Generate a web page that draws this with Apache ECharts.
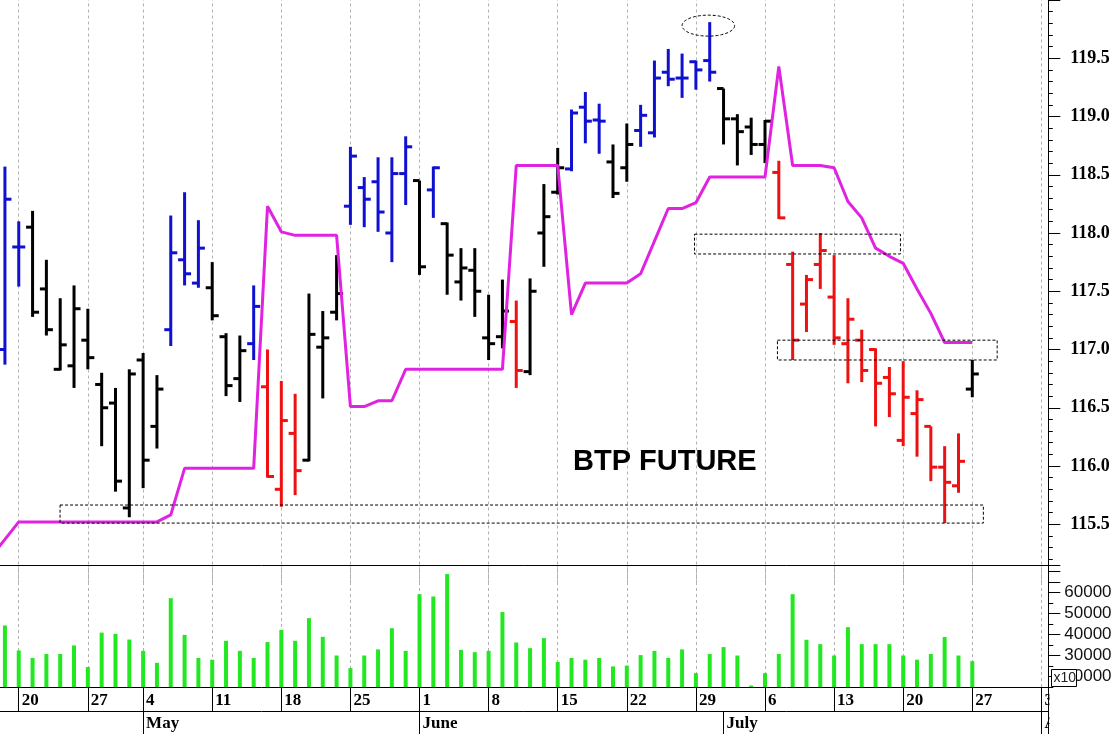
<!DOCTYPE html>
<html><head><meta charset="utf-8">
<script src="https://cdn.jsdelivr.net/npm/echarts@6/dist/echarts.min.js"></script>
<style>html,body{margin:0;padding:0;background:#fff;}#c{width:1119px;height:734px;}</style>
</head><body><div id="c"></div>
<script>
// ---- categories (trading days) ----
const days = ['04-16','04-17','04-20','04-21','04-22','04-23','04-24','04-27','04-28','04-29','04-30',
'05-04','05-05','05-06','05-07','05-08','05-11','05-12','05-13','05-14','05-15','05-18','05-19','05-20','05-21','05-22',
'05-25','05-26','05-27','05-28','05-29','06-01','06-02','06-03','06-04','06-05','06-08','06-09','06-10','06-11','06-12',
'06-15','06-16','06-17','06-18','06-19','06-22','06-23','06-24','06-25','06-26','06-29','06-30','07-01','07-02','07-03',
'07-06','07-07','07-08','07-09','07-10','07-13','07-14','07-15','07-16','07-17','07-20','07-21','07-22','07-23','07-24',
'07-27','07-28','07-29','07-30','07-31','08-03'];
const weekTicks = ['04-20','04-27','05-04','05-11','05-18','05-25','06-01','06-08','06-15','06-22','06-29','07-06','07-13','07-20','07-27','08-03'];
const monthStarts = ['05-04','06-01','07-01','08-03'];
const monthNames = ['May','June','July','August'];

// ---- OHLC (first category and last five are empty) ----
const opens = [null,
117.00,117.88,118.05,117.52,116.83,116.86,117.08,116.70,116.54,115.64,
116.91,116.34,117.17,117.77,117.57,117.53,117.11,116.75,117.05,116.68,
115.80,116.28,116.05,117.02,117.32,118.23,118.39,118.44,118.00,118.51,
118.45,118.37,118.08,117.58,117.68,117.10,117.11,117.24,116.81,118.00,
118.35,118.55,119.08,118.97,118.61,118.56,118.88,118.86,119.38,119.33,
119.47,119.48,119.24,118.98,118.91,118.76,118.52,117.73,117.39,117.73,
117.45,117.05,117.08,117.00,116.76,116.22,116.45,116.34,115.99,115.83,116.66,
null,null,null,null,null];
const highs = [null,
118.57,118.10,118.19,117.77,117.44,117.55,117.35,116.80,116.67,116.83,
116.97,116.78,118.15,118.35,118.11,117.75,117.14,117.12,117.55,117.00,
116.73,116.62,117.48,117.33,117.81,118.74,118.48,118.65,118.65,118.83,
118.45,118.57,118.09,117.87,117.87,117.47,117.60,117.42,117.61,118.42,
118.73,119.06,119.21,119.11,118.76,118.94,119.10,119.48,119.58,119.54,
119.48,119.81,119.24,119.02,118.99,118.97,118.62,117.84,117.64,118.00,
117.81,117.44,117.17,117.01,116.85,116.90,116.65,116.34,116.17,116.28,116.91,
null,null,null,null,null];
const lows = [null,
116.87,117.54,117.28,117.12,116.82,116.67,116.83,116.17,115.78,115.56,
115.81,116.15,117.03,117.55,117.53,117.25,116.60,116.55,116.91,115.90,
115.65,115.75,116.04,116.58,117.25,118.07,118.05,118.01,117.75,118.24,
117.64,118.13,117.47,117.42,117.28,116.91,117.01,116.67,116.78,117.71,
118.33,118.53,118.77,118.68,118.30,118.44,118.74,118.82,119.26,119.16,
119.23,119.30,118.76,118.58,118.67,118.60,118.12,116.91,117.15,117.52,
117.04,116.71,116.72,116.34,116.42,116.17,116.08,115.87,115.51,115.77,116.59,
null,null,null,null,null];
const closes = [null,
118.29,117.88,117.32,117.17,117.04,117.35,116.93,116.50,115.87,116.79,
116.05,116.66,117.83,117.65,117.87,117.29,116.69,116.99,117.37,115.91,
116.39,115.96,117.13,117.10,117.48,118.66,118.29,118.18,118.51,118.74,
117.71,118.56,117.81,117.70,117.50,117.05,117.33,116.82,117.50,118.14,
118.56,119.03,118.96,118.96,118.34,118.76,119.01,119.33,119.32,119.33,
119.40,119.38,118.98,118.87,118.76,118.96,118.13,117.08,117.60,117.85,
117.10,117.26,116.82,116.71,116.62,116.59,116.57,115.99,115.86,116.04,116.79,
null,null,null,null,null];
// bar colour state: b = blue, k = black, r = red
const trend = [null,
'b','b','k','k','k','k','k','k','k','k',
'k','k','b','b','b','k','k','k','b','r',
'r','r','k','k','k','b','b','b','b','b',
'k','b','k','k','k','k','k','r','k','k',
'k','b','b','b','k','k','b','b','b','b',
'b','b','k','k','k','k','r','r','r','r',
'r','r','r','r','r','r','r','r','r','r','k',
null,null,null,null,null];

// ---- magenta indicator line ----
const lineVals = [115.22,
115.37,115.52,115.52,115.52,115.52,115.52,115.52,115.52,115.52,115.52,
115.52,115.52,115.58,115.98,115.98,115.98,115.98,115.98,115.98,118.23,
118.01,117.98,117.98,117.98,117.98,116.51,116.51,116.56,116.56,116.83,
116.83,116.83,116.83,116.83,116.83,116.83,116.83,118.58,118.58,118.58,
118.58,117.30,117.57,117.57,117.57,117.57,117.65,117.93,118.21,118.21,
118.26,118.48,118.48,118.48,118.48,118.48,119.43,118.58,118.58,118.58,
118.56,118.27,118.13,117.87,117.80,117.74,117.52,117.31,117.06,117.06,117.06,
null,null,null,null,null];

// ---- volume ----
const volumes = [null,
44300,32400,28800,30700,30700,34800,24500,40900,40300,37600,
32200,26500,57300,39800,28800,28000,37000,32200,28800,36400,
42200,37000,47800,38900,30000,24000,30000,32900,43000,32200,
59200,58100,68800,32700,31600,32200,50700,36200,33500,38300,
26900,28800,28000,28800,24800,25200,30200,32200,28800,32900,
21600,30700,34000,30000,15700,21600,30700,59200,37500,35400,
30000,43500,35400,35400,35400,30000,28000,30700,38800,30000,27300,
null,null,null,null,null];

// ---- dashed annotation zones (x in trading-day index units, y in price) ----
const zoneX1 = [4.99, 56.9, 50.9, 50.0];
const zoneX2 = [71.8, 72.8, 65.8, 53.8];
const zoneLo = [115.51, 116.91, 117.82, 119.69];
const zoneHi = [115.665, 117.08, 117.99, 119.87];
const zoneShape = ['rect','rect','rect','ellipse'];

const COLORS = {b:'#1010d0', k:'#000000', r:'#ee1111'};
const MAGENTA = '#e023e0';
const GREEN = '#22e822';

const isWeek = (i, v) => weekTicks.indexOf(v) >= 0;
const isMonth = (i, v) => monthStarts.indexOf(v) >= 0;

const ohlcData = [];
for (let i = 0; i < days.length; i++) {
  if (opens[i] != null) ohlcData.push([i, opens[i], highs[i], lows[i], closes[i]]);
}

function renderOHLC(params, api) {
  const i = api.value(0);
  const h = api.coord([i, api.value(2)]);
  const l = api.coord([i, api.value(3)]);
  const o = api.coord([i, api.value(1)]);
  const c = api.coord([i, api.value(4)]);
  const col = COLORS[trend[i]];
  const x = h[0];
  const t = 6.5;
  const st = {stroke: col, lineWidth: 3};
  return {type: 'group', children: [
    {type: 'line', shape: {x1: x, y1: h[1], x2: x, y2: l[1]}, style: st},
    {type: 'line', shape: {x1: x - t, y1: o[1], x2: x, y2: o[1]}, style: st},
    {type: 'line', shape: {x1: x, y1: c[1], x2: x + t, y2: c[1]}, style: st}
  ]};
}

function renderZone(params, api) {
  const k = params.dataIndex;
  const c0 = api.coord([0, zoneLo[k]]);
  const bw = api.size([1, 0])[0];
  const x1 = c0[0] + zoneX1[k] * bw, x2 = c0[0] + zoneX2[k] * bw;
  const yLo = c0[1], yHi = api.coord([0, zoneHi[k]])[1];
  const style = {fill: 'none', stroke: '#000', lineWidth: 1, lineDash: [3, 2]};
  if (zoneShape[k] === 'ellipse') {
    const cx = (x1 + x2) / 2, cy = (yLo + yHi) / 2, rx = (x2 - x1) / 2, ry = (yLo - yHi) / 2;
    const pts = [];
    for (let s = 0; s < 72; s++) { const a = s / 72 * 2 * Math.PI; pts.push([cx + rx * Math.cos(a), cy + ry * Math.sin(a)]); }
    return {type: 'polygon', shape: {points: pts}, style: style};
  }
  return {type: 'rect', shape: {x: x1, y: yHi, width: x2 - x1, height: yLo - yHi}, style: style};
}

const gridMarks = {
  silent: true, symbol: 'none', animation: false, z: 0,
  label: {show: false},
  lineStyle: {color: '#b2b2b2', type: [3, 3], width: 1},
  emphasis: {disabled: true},
  data: weekTicks.map(d => ({xAxis: d}))
};

const GL = -15.8, GR = 70.7;
const chart = echarts.init(document.getElementById('c'));
chart.setOption({
  animation: false,
  backgroundColor: '#ffffff',
  grid: [
    {left: GL, right: GR, top: 0, height: 582.5, containLabel: false, outerBoundsMode: 'none'},
    {left: GL, right: GR, top: 565, height: 122, containLabel: false, outerBoundsMode: 'none'},
    {left: GL, right: GR, top: 565, height: 132.5, containLabel: false, outerBoundsMode: 'none'}
  ],
  xAxis: [
    {type: 'category', gridIndex: 0, data: days, axisLine: {show: false}, axisTick: {show: false}, axisLabel: {show: false}, splitLine: {show: false}},
    {type: 'category', gridIndex: 1, data: days, position: 'bottom',
      axisLine: {show: true, lineStyle: {color: '#000', width: 1}},
      axisTick: {show: true, alignWithLabel: true, interval: isWeek, length: 24, lineStyle: {color: '#000'}},
      axisLabel: {interval: isWeek, formatter: v => String(Number(v.slice(3))), align: 'left', padding: [0, 0, 0, 3], margin: 5,
        fontFamily: 'Liberation Serif', fontWeight: 'bold', fontSize: 17, color: '#000'},
      splitLine: {show: false}},
    {type: 'category', gridIndex: 1, data: days, position: 'bottom', offset: 24,
      axisLine: {show: true, lineStyle: {color: '#000', width: 1}},
      axisTick: {show: true, alignWithLabel: true, interval: isMonth, length: 23, lineStyle: {color: '#000'}},
      axisLabel: {interval: isMonth, formatter: v => { const k = monthStarts.indexOf(v); return k >= 0 ? monthNames[k] : ''; },
        align: 'left', padding: [0, 0, 0, 3], margin: 4, fontFamily: 'Liberation Serif', fontWeight: 'bold', fontSize: 17, color: '#000'},
      splitLine: {show: false}},
    {type: 'category', gridIndex: 1, data: days, position: 'top',
      axisLine: {show: true, lineStyle: {color: '#000', width: 1}}, axisTick: {show: false}, axisLabel: {show: false}, splitLine: {show: false}},
    {type: 'category', gridIndex: 2, data: days, show: false}
  ],
  yAxis: [
    {type: 'value', gridIndex: 0, position: 'right', min: 115, max: 120, interval: 0.5,
      axisLine: {show: true, lineStyle: {color: '#000', width: 1}},
      axisTick: {show: true, length: 12, lineStyle: {color: '#000'}},
      minorTick: {show: true, splitNumber: 5, length: 4.5, lineStyle: {color: '#000'}},
      axisLabel: {margin: 22, formatter: v => (v > 115.01 && v < 119.99) ? v.toFixed(1) : '',
        fontFamily: 'Liberation Serif', fontWeight: 'bold', fontSize: 18, color: '#000'},
      splitLine: {show: false}, minorSplitLine: {show: false}},
    {type: 'value', gridIndex: 1, position: 'right', min: 15000, max: 73100, interval: 5000,
      axisLine: {show: true, lineStyle: {color: '#000', width: 1}},
      axisTick: {show: true, length: 5, lineStyle: {color: '#000'}},
      axisLabel: {show: false}, splitLine: {show: false}},
    {type: 'value', gridIndex: 2, position: 'right', min: 10000, max: 73100, interval: 10000,
      axisLine: {show: false},
      axisTick: {show: true, length: 12, lineStyle: {color: '#000'}},
      axisLabel: {margin: 16, formatter: v => (v >= 20000 && v <= 60000) ? String(v) : '',
        fontFamily: 'Liberation Sans', fontSize: 17, color: '#111'},
      splitLine: {show: false}}
  ],
  series: [
    {type: 'line', name: 'gridP', xAxisIndex: 0, yAxisIndex: 0, data: [], z: 0, markLine: gridMarks},
    {type: 'line', name: 'gridV', xAxisIndex: 1, yAxisIndex: 1, data: [], z: 0, markLine: gridMarks},
    {type: 'custom', name: 'OHLC', xAxisIndex: 0, yAxisIndex: 0, data: ohlcData, renderItem: renderOHLC, z: 3,
      encode: {x: 0, y: [1, 2, 3, 4]}},
    {type: 'line', name: 'Indicator', xAxisIndex: 0, yAxisIndex: 0, data: lineVals, symbol: 'none', z: 4,
      lineStyle: {color: MAGENTA, width: 3}, itemStyle: {color: MAGENTA}},
    {type: 'custom', name: 'Zones', xAxisIndex: 0, yAxisIndex: 0,
      data: zoneX1.map((v, i) => [Math.round(v), zoneLo[i]]), renderItem: renderZone, z: 5},
    {type: 'bar', name: 'Volume', xAxisIndex: 1, yAxisIndex: 1, data: volumes, barWidth: 4, z: 3,
      itemStyle: {color: GREEN}}
  ],
  graphic: [
    {type: 'text', x: 573, y: 462, z: 50, style: {text: 'BTP FUTURE', font: 'bold 29px "Liberation Sans"', fill: '#000', verticalAlign: 'middle'}},
    {type: 'rect', zlevel: 1, z: 100, shape: {x: 1049.5, y: 688, width: 70, height: 46}, style: {fill: '#fff'}},
    {type: 'line', zlevel: 1, z: 101, shape: {x1: 1048.5, y1: 686, x2: 1048.5, y2: 734}, style: {stroke: '#000', lineWidth: 1}},
    {type: 'group', zlevel: 1, x: 1051.5, y: 669.5, z: 102, children: [
      {type: 'rect', zlevel: 1, shape: {x: 0, y: 0, width: 25, height: 17}, style: {fill: '#fff', stroke: '#000', lineWidth: 1}},
      {type: 'text', zlevel: 1, x: 2, y: 9, style: {text: 'x10', font: '14px "Liberation Sans"', fill: '#222', align: 'left', verticalAlign: 'middle'}}
    ]}
  ]
});
</script></body></html>
